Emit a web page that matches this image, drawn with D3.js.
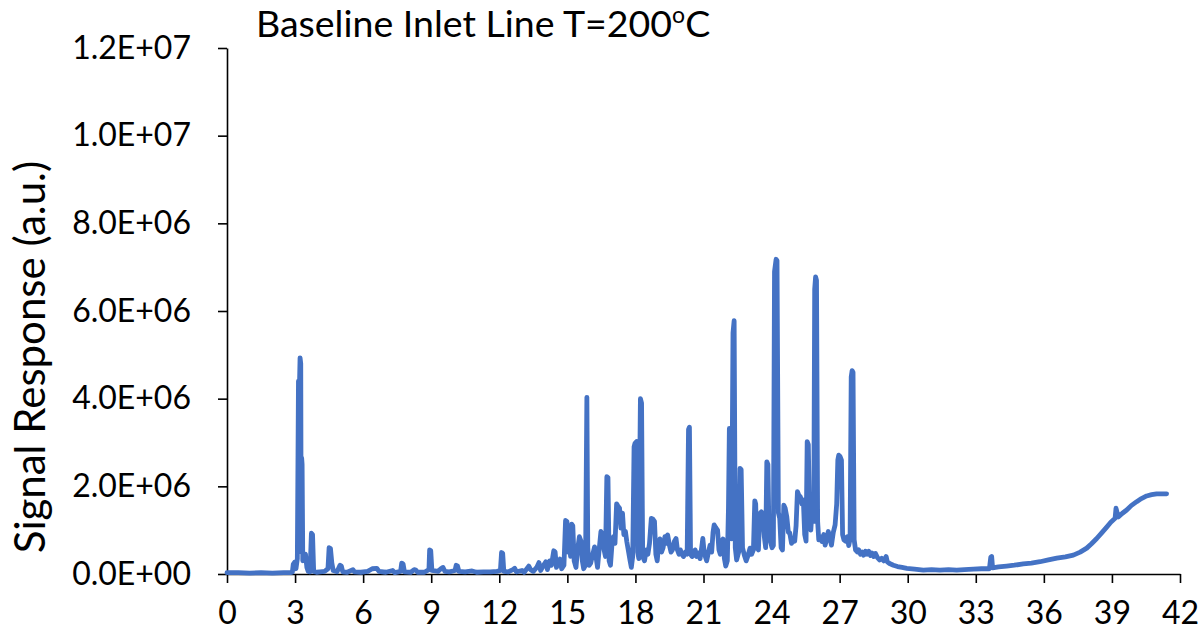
<!DOCTYPE html>
<html>
<head>
<meta charset="utf-8">
<script src="https://cdn.jsdelivr.net/npm/d3@7"></script>
<style>
  body { margin: 0; background: #fff; }
  svg { display: block; }
  text { font-family: Lato, "Open Sans", sans-serif; fill: #000; }
</style>
</head>
<body>
<svg id="chart" width="1200" height="635"></svg>
<script>
// Retention time (min) of each sample of the chromatogram
const retentionTime = [
  0, 0.5, 1.0, 1.5, 2.0, 2.5, 2.8, 2.88, 2.92, 2.98, 3.04, 3.10, 3.15, 3.19, 3.22, 3.25, 3.27, 3.29, 3.31, 3.34,
  3.40, 3.46, 3.52, 3.58, 3.66, 3.72, 3.77, 3.82, 3.95, 4.10, 4.30, 4.45, 4.50, 4.56, 4.62, 4.68, 4.85, 4.98, 5.04, 5.10,
  5.30, 5.55, 5.62, 5.90, 6.20, 6.40, 6.60, 6.70, 7.00, 7.30, 7.40, 7.65, 7.70, 7.76, 7.82, 8.10, 8.25, 8.32, 8.40, 8.70,
  8.90, 8.93, 8.98, 9.03, 9.30, 9.45, 9.52, 9.60, 9.80, 10.05, 10.10, 10.16, 10.22, 10.50, 10.80, 11.00, 11.30, 11.60, 11.90, 12.05,
  12.10, 12.15, 12.20, 12.40, 12.60, 12.68, 12.75, 13.00, 13.10, 13.30, 13.38, 13.50, 13.65, 13.75, 13.82, 13.95, 14.05, 14.12, 14.22, 14.30,
  14.40, 14.46, 14.52, 14.60, 14.68, 14.75, 14.85, 14.92, 14.98, 15.03, 15.08, 15.14, 15.19, 15.24, 15.30, 15.38, 15.45, 15.53, 15.60, 15.66,
  15.72, 15.80, 15.86, 15.90, 15.96, 16.03, 16.12, 16.20, 16.26, 16.33, 16.40, 16.48, 16.55, 16.62, 16.68, 16.74, 16.79, 16.84, 16.90, 16.97,
  17.03, 17.10, 17.17, 17.23, 17.30, 17.36, 17.43, 17.49, 17.56, 17.62, 17.70, 17.76, 17.82, 17.88, 17.94, 17.98, 18.05, 18.10, 18.15, 18.22,
  18.27, 18.32, 18.40, 18.48, 18.55, 18.62, 18.70, 18.77, 18.84, 18.90, 18.96, 19.02, 19.08, 19.15, 19.22, 19.30, 19.36, 19.42, 19.50, 19.57,
  19.63, 19.72, 19.79, 19.85, 19.92, 19.98, 20.05, 20.12, 20.20, 20.28, 20.34, 20.38, 20.43, 20.50, 20.56, 20.63, 20.70, 20.77, 20.85, 20.92,
  20.97, 21.02, 21.08, 21.14, 21.20, 21.29, 21.36, 21.42, 21.47, 21.55, 21.62, 21.68, 21.74, 21.80, 21.86, 21.92, 21.98, 22.05, 22.10, 22.14,
  22.18, 22.24, 22.30, 22.35, 22.40, 22.46, 22.55, 22.61, 22.66, 22.72, 22.80, 22.88, 22.95, 23.05, 23.12, 23.20, 23.26, 23.30, 23.35, 23.42,
  23.48, 23.55, 23.62, 23.68, 23.74, 23.79, 23.84, 23.89, 23.95, 24.02, 24.08, 24.13, 24.20, 24.24, 24.30, 24.36, 24.42, 24.48, 24.54, 24.60,
  24.67, 24.74, 24.80, 24.88, 24.96, 25.02, 25.08, 25.14, 25.20, 25.27, 25.34, 25.40, 25.46, 25.52, 25.57, 25.62, 25.67, 25.73, 25.80, 25.86,
  25.90, 25.94, 25.98, 26.03, 26.08, 26.15, 26.22, 26.30, 26.36, 26.43, 26.50, 26.57, 26.64, 26.72, 26.80, 26.87, 26.92, 26.96, 27.02, 27.08,
  27.13, 27.19, 27.26, 27.34, 27.40, 27.46, 27.51, 27.55, 27.59, 27.64, 27.70, 27.78, 27.84, 27.92, 28.00, 28.06, 28.14, 28.22, 28.28, 28.36,
  28.43, 28.50, 28.58, 28.66, 28.76, 28.85, 28.94, 29.05, 29.10, 29.20, 29.37, 29.55, 29.75, 29.96, 30.30, 30.69, 31.05, 31.42, 31.80, 32.16,
  32.50, 32.89, 33.25, 33.60, 33.66, 33.70, 33.74, 34.00, 34.36, 34.70, 35.09, 35.45, 35.83, 36.20, 36.57, 36.95, 37.30, 37.60, 37.89, 38.10,
  38.33, 38.55, 38.77, 38.95, 39.14, 39.18, 39.22, 39.28, 39.45, 39.65, 39.85, 40.09, 40.30, 40.53, 40.75, 40.97, 41.20, 41.41
];

// Detector signal at each retention time, in units of 1E+06 a.u.
const signalE6 = [
  0.03, 0.03, 0.02, 0.03, 0.02, 0.03, 0.03, 0.04, 0.22, 0.27, 0.12, 0.35, 4.40, 4.20, 4.93, 4.80, 0.50, 2.65, 2.50, 0.30,
  0.43, 0.45, 0.15, 0.06, 0.05, 0.93, 0.90, 0.06, 0.04, 0.05, 0.06, 0.12, 0.60, 0.58, 0.25, 0.08, 0.05, 0.20, 0.18, 0.05,
  0.04, 0.10, 0.05, 0.04, 0.06, 0.12, 0.13, 0.06, 0.04, 0.08, 0.03, 0.06, 0.25, 0.23, 0.05, 0.04, 0.10, 0.09, 0.04, 0.04,
  0.10, 0.55, 0.53, 0.08, 0.06, 0.13, 0.15, 0.06, 0.05, 0.08, 0.20, 0.18, 0.06, 0.05, 0.07, 0.04, 0.05, 0.05, 0.06, 0.08,
  0.49, 0.47, 0.06, 0.05, 0.10, 0.13, 0.05, 0.08, 0.04, 0.18, 0.10, 0.06, 0.15, 0.26, 0.08, 0.20, 0.28, 0.10, 0.30, 0.20,
  0.53, 0.50, 0.15, 0.25, 0.34, 0.12, 0.20, 1.22, 1.20, 0.50, 0.93, 0.40, 1.14, 1.10, 0.30, 0.15, 0.55, 0.85, 0.75, 0.30,
  0.12, 0.20, 4.03, 0.60, 0.20, 0.25, 0.45, 0.62, 0.40, 0.15, 0.55, 0.97, 0.90, 0.55, 0.40, 2.22, 2.20, 0.30, 0.20, 0.70,
  0.85, 0.70, 1.60, 1.55, 1.50, 1.05, 1.39, 0.90, 0.97, 0.74, 0.50, 0.32, 0.15, 0.40, 2.90, 2.98, 3.02, 0.50, 0.35, 4.00,
  3.90, 0.40, 0.30, 0.55, 0.45, 0.70, 1.27, 1.25, 1.20, 0.45, 0.30, 0.65, 0.80, 0.50, 0.60, 0.85, 0.70, 0.89, 0.65, 0.50,
  0.55, 0.75, 0.81, 0.55, 0.45, 0.55, 0.45, 0.40, 0.50, 0.45, 3.30, 3.35, 0.45, 0.40, 0.43, 0.55, 0.40, 0.48, 0.35, 0.60,
  0.81, 0.55, 0.40, 0.30, 0.45, 0.66, 0.50, 0.95, 1.12, 1.05, 1.00, 0.55, 0.45, 0.75, 0.80, 0.35, 0.18, 0.30, 1.50, 3.32,
  3.30, 0.80, 5.50, 5.78, 0.60, 0.32, 0.50, 2.41, 2.38, 0.60, 0.43, 0.30, 0.40, 0.59, 0.45, 0.55, 1.67, 1.60, 0.62, 0.55,
  1.38, 1.42, 1.30, 0.85, 0.60, 2.56, 2.50, 0.80, 0.74, 0.60, 0.65, 6.90, 7.18, 7.15, 1.40, 1.27, 0.60, 0.55, 1.57, 1.50,
  1.31, 0.95, 0.94, 0.70, 0.81, 0.75, 1.10, 1.88, 1.80, 1.76, 1.60, 1.69, 0.90, 0.75, 3.02, 2.95, 1.27, 1.00, 1.61, 1.20,
  6.50, 6.78, 6.70, 1.20, 0.78, 0.85, 0.74, 0.90, 0.66, 0.80, 0.97, 0.80, 0.66, 0.95, 1.12, 1.60, 2.60, 2.71, 2.68, 2.60,
  0.90, 0.78, 0.75, 0.85, 0.65, 0.80, 4.50, 4.64, 4.60, 0.78, 0.55, 0.50, 0.55, 0.45, 0.50, 0.43, 0.52, 0.45, 0.52, 0.42,
  0.48, 0.40, 0.47, 0.38, 0.32, 0.36, 0.30, 0.40, 0.28, 0.24, 0.20, 0.17, 0.15, 0.13, 0.11, 0.09, 0.10, 0.09, 0.10, 0.09,
  0.10, 0.11, 0.12, 0.12, 0.38, 0.40, 0.14, 0.16, 0.18, 0.20, 0.23, 0.25, 0.28, 0.32, 0.36, 0.39, 0.43, 0.50, 0.59, 0.69,
  0.81, 0.94, 1.07, 1.18, 1.27, 1.50, 1.42, 1.30, 1.38, 1.46, 1.56, 1.65, 1.72, 1.78, 1.81, 1.83, 1.83, 1.83
];

const xTicks = [0, 3, 6, 9, 12, 15, 18, 21, 24, 27, 30, 33, 36, 39, 42];
const yTicks = [0, 2, 4, 6, 8, 10, 12];
const yTickLabels = ["0.0E+00", "2.0E+06", "4.0E+06", "6.0E+06", "8.0E+06", "1.0E+07", "1.2E+07"];

const svg = d3.select("#chart");
const plot = { left: 227, right: 1180, top: 48, bottom: 574 };

const x = d3.scaleLinear().domain([0, 42]).range([plot.left, plot.right]);
const y = d3.scaleLinear().domain([0, 12]).range([plot.bottom, plot.top]);

// Axes
const yAxis = svg.append("g")
  .attr("transform", `translate(${plot.left},0)`)
  .call(d3.axisLeft(y)
    .tickValues(yTicks)
    .tickFormat((d, i) => yTickLabels[i])
    .tickSize(9).tickSizeOuter(0).tickPadding(27));

const xAxis = svg.append("g")
  .attr("transform", `translate(0,${plot.bottom})`)
  .call(d3.axisBottom(x)
    .tickValues(xTicks)
    .tickFormat(d3.format("d"))
    .tickSize(9).tickSizeOuter(0).tickPadding(18));

[yAxis, xAxis].forEach(g => {
  g.select(".domain").attr("stroke", "#000").attr("stroke-width", 1.6);
  g.selectAll(".tick line").attr("stroke", "#000").attr("stroke-width", 1.6);
  g.selectAll(".tick text").attr("font-size", 32).attr("fill", "#000")
    .style("font-family", "Lato, 'Open Sans', sans-serif");
});

// Chromatogram trace
const points = retentionTime.map((t, i) => [t, signalE6[i]]);
svg.append("path")
  .datum(points)
  .attr("fill", "none")
  .attr("stroke", "#4472C4")
  .attr("stroke-width", 4.8)
  .attr("stroke-linejoin", "round")
  .attr("stroke-linecap", "round")
  .attr("d", d3.line().x(d => x(d[0])).y(d => y(d[1])));

// Y-axis title
svg.append("text")
  .attr("transform", "translate(45,357) rotate(-90)")
  .attr("text-anchor", "middle")
  .attr("font-size", 42)
  .text("Signal Response (a.u.)");

// Chart title with superscript degree sign
const title = svg.append("text")
  .attr("x", 256)
  .attr("y", 37)
  .attr("font-size", 37.5);
title.append("tspan").text("Baseline Inlet Line T=200");
title.append("tspan").attr("font-size", 23).attr("dy", -14).text("o");
title.append("tspan").attr("dy", 14).text("C");
</script>
</body>
</html>
